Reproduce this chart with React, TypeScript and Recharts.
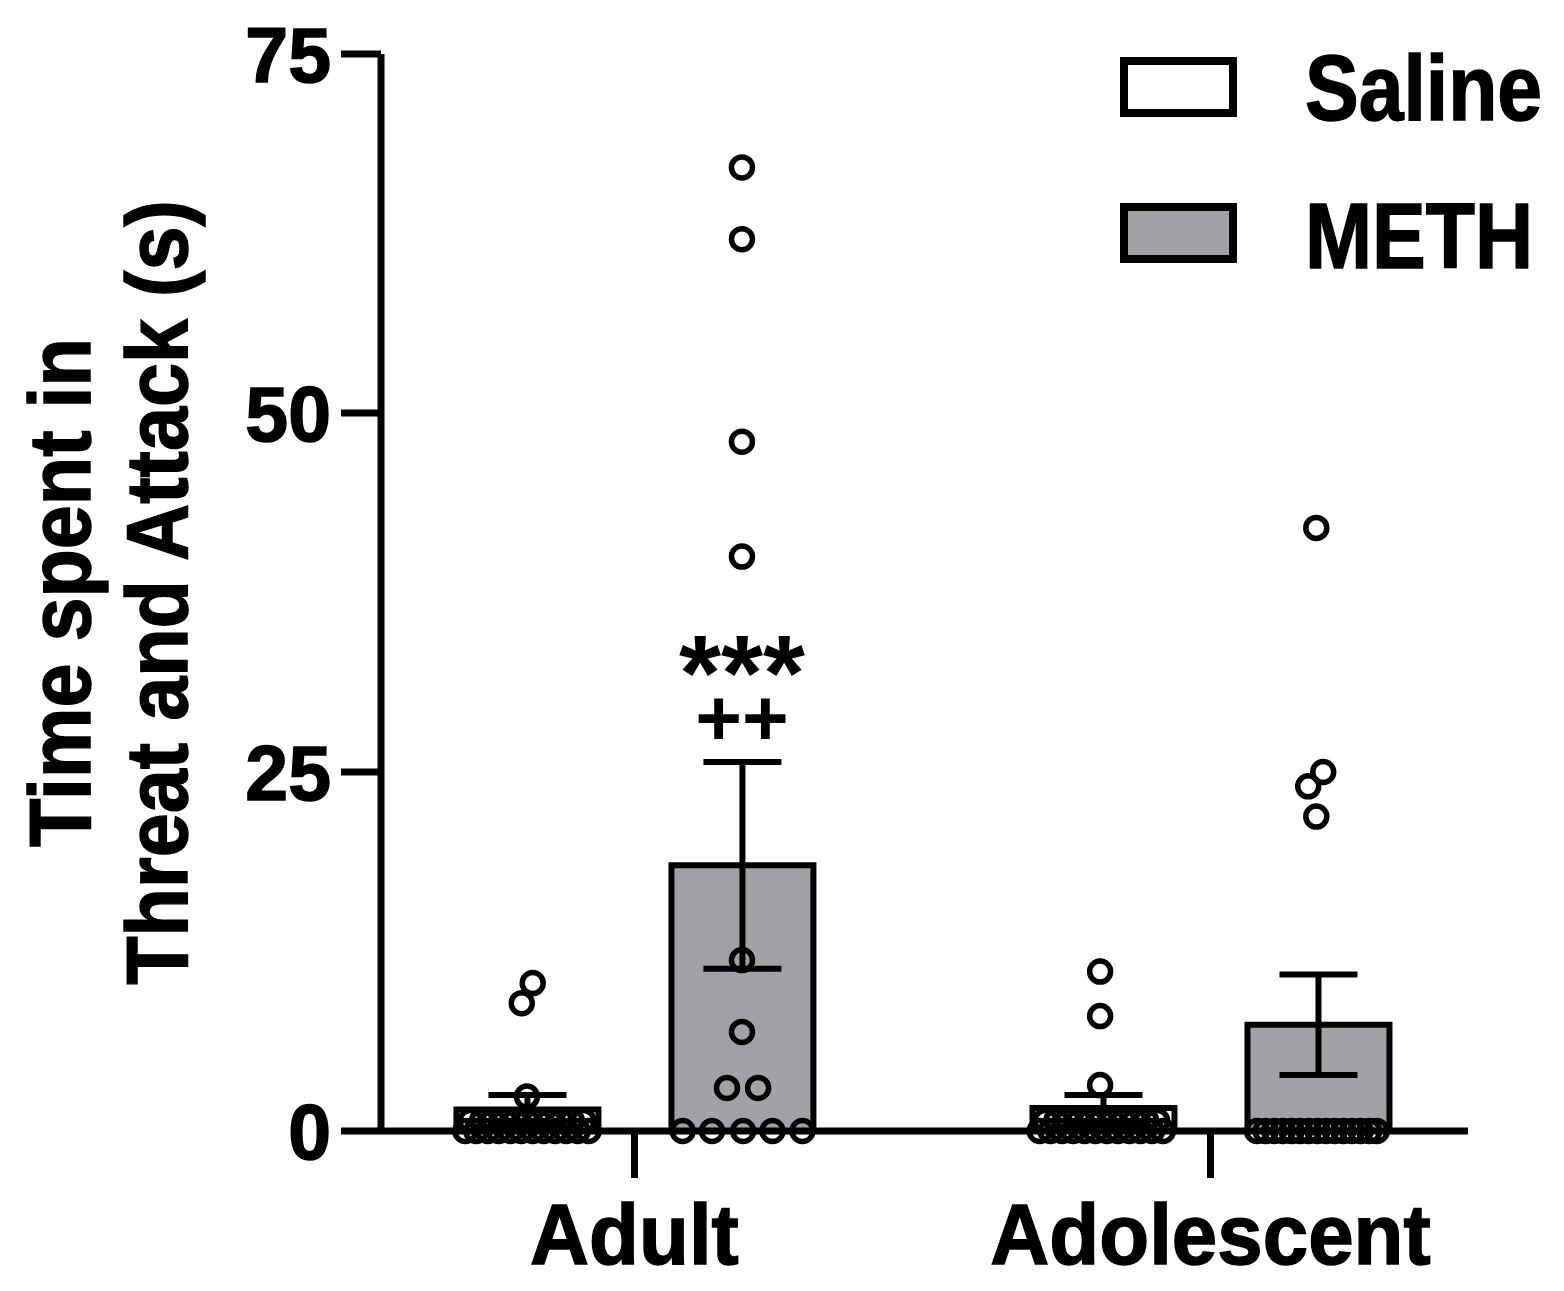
import { Bar, ComposedChart, ErrorBar, Legend, Scatter, XAxis, YAxis } from "recharts";

const FONT = '"Liberation Sans", Arial, sans-serif';

const groups = ["Adult", "Adolescent"];
const groupX = [1, 2];
const seriesNames = ["Saline", "METH"];

const salineMean = [1.5, 1.6];
const salineSem = [1.0, 0.9];
const methMean = [18.5, 7.4];
const methSem = [7.2, 3.5];

const yTicks = [0, 25, 50, 75];

// individual animals (value) and their horizontal jitter, in category units
const adultSalineVals = [
  10.3, 8.9, 2.4,
  0, 0, 0, 0, 0, 0, 0, 0, 0, 0, 0, 0,
  0.7, 0.7, 0.7, 0.7, 0.7, 0.7, 0.7, 0.7, 0.7, 0.7, 0.7,
];
const adultSalineJit = [
  0.01, -0.009, 0,
  -0.107, -0.088, -0.068, -0.049, -0.029, -0.01, 0.01, 0.029, 0.049, 0.068, 0.088, 0.107,
  -0.098, -0.078, -0.059, -0.039, -0.02, 0, 0.02, 0.039, 0.059, 0.078, 0.098,
];
const adultMethVals = [67.1, 62.1, 48.0, 40.0, 11.9, 6.9, 3.0, 3.0, 0, 0, 0, 0, 0];
const adultMethJit = [0, 0, 0, 0, 0, 0, -0.026, 0.028, -0.103, -0.052, 0.002, 0.053, 0.105];
const adolSalineVals = [
  11.1, 8.0, 3.2,
  0, 0, 0, 0, 0, 0, 0, 0, 0, 0, 0, 0,
  0.7, 0.7, 0.7, 0.7, 0.7, 0.7, 0.7, 0.7, 0.7, 0.7, 0.7,
];
const adolSalineJit = [
  -0.005, -0.005, -0.005,
  -0.11, -0.091, -0.071, -0.052, -0.032, -0.013, 0.007, 0.026, 0.046, 0.065, 0.085, 0.104,
  -0.1, -0.081, -0.061, -0.042, -0.022, -0.003, 0.016, 0.036, 0.055, 0.075, 0.094,
];
const adolMethVals = [42.0, 25.0, 24.0, 21.9, 0, 0, 0, 0, 0, 0, 0, 0, 0, 0, 0, 0, 0, 0, 0];
const adolMethJit = [
  -0.003, 0.009, -0.017, -0.003,
  -0.106, -0.091, -0.076, -0.061, -0.046, -0.031, -0.016, -0.001, 0.014, 0.029, 0.044, 0.059, 0.074, 0.089, 0.102,
];

const sigStars = ["***", ""];
const sigPlus = ["++", ""];

const X_DOMAIN = [0.56, 2.447];
const BAR_SIZE = 142;
const BAR_GAP = 73;
const BAND_PX = 576;
const SHIFT = (BAR_SIZE + BAR_GAP) / 2 / BAND_PX;
const METH_FILL = "#a2a1a6";
const legendFills: Record<string, string> = { Saline: "#ffffff", METH: METH_FILL };

const barRows = groups.map((g, i) => ({
  x: groupX[i],
  saline: salineMean[i],
  salineErr: salineSem[i],
  meth: methMean[i],
  methErr: methSem[i],
}));

const toDots = (gi: number, side: number, vals: number[], jit: number[]) =>
  vals.map((v, i) => ({ x: groupX[gi] + side * SHIFT + jit[i], v }));

const salineDots = [
  ...toDots(0, -1, adultSalineVals, adultSalineJit),
  ...toDots(1, -1, adolSalineVals, adolSalineJit),
];
const methDots = [
  ...toDots(0, 1, adultMethVals, adultMethJit),
  ...toDots(1, 1, adolMethVals, adolMethJit),
];
const sigRows = groups
  .map((g, i) => ({ x: groupX[i] + SHIFT, v: methMean[i] + methSem[i], i }))
  .filter((r) => sigStars[r.i] !== "");

const Dot = (p: any) => (
  <circle cx={p.cx} cy={p.cy} r={10.5} fill="none" stroke="#000" strokeWidth={5.5} />
);

const SigMark = (p: any) => {
  const i = p.payload.i;
  return (
    <g fontFamily={FONT} fontWeight={700} fill="#000" textAnchor="middle">
      <text x={p.cx} y={p.cy - 52} fontSize={108}>
        {sigStars[i]}
      </text>
      <text x={p.cx} y={p.cy - 17} fontSize={80}>
        {sigPlus[i]}
      </text>
    </g>
  );
};

function XTick({ x, y, payload }: any) {
  return (
    <g transform={`translate(${x},${y}) scale(0.95,1)`}>
      <text
        x={0}
        y={0}
        dy="0.72em"
        textAnchor="middle"
        fontSize={86}
        fontWeight={700}
        fontFamily={FONT}
        fill="#000"
        stroke="#000"
        strokeWidth={1.5}
      >
        {groups[groupX.indexOf(payload.value)]}
      </text>
    </g>
  );
}

function YTick({ x, y, payload }: any) {
  return (
    <text
      x={x}
      y={y}
      dy="0.36em"
      textAnchor="end"
      fontSize={77}
      fontWeight={700}
      fontFamily={FONT}
      fill="#000"
      stroke="#000"
      strokeWidth={1.5}
    >
      {payload.value}
    </text>
  );
}

function YLabel({ viewBox }: any) {
  const cy = viewBox.y + viewBox.height / 2;
  const lines = ["Time spent in", "Threat and Attack (s)"];
  const xs = [viewBox.x + 90, viewBox.x + 187];
  return (
    <g>
      {lines.map((t, i) => (
        <g key={t} transform={`translate(${xs[i]},${cy}) rotate(-90) scale(0.9,1)`}>
          <text
            x={0}
            y={0}
            textAnchor="middle"
            fontSize={88}
            fontWeight={700}
            fontFamily={FONT}
            fill="#000"
            stroke="#000"
            strokeWidth={1.5}
          >
            {t}
          </text>
        </g>
      ))}
    </g>
  );
}

function LegendBox({ payload }: any) {
  const items = seriesNames.filter((n) => (payload || []).some((p: any) => p.value === n));
  return (
    <svg width={460} height={250}>
      {items.map((name, i) => (
        <g key={name}>
          <rect x={24} y={21 + i * 146} width={109} height={52} fill={legendFills[name]} stroke="#000" strokeWidth={8} />
          <g transform={`translate(205,${80 + i * 148}) scale(0.875,1)`}>
            <text
              x={0}
              y={0}
              fontSize={92}
              fontWeight={700}
              fontFamily={FONT}
              fill="#000"
              stroke="#000"
              strokeWidth={1.5}
            >
              {name}
            </text>
          </g>
        </g>
      ))}
    </svg>
  );
}

export default function App() {
  return (
    <div style={{ position: "absolute", left: 0, top: 0, width: 1564, height: 1291, background: "#fff" }}>
      <ComposedChart
        width={1564}
        height={1291}
        data={barRows}
        margin={{ top: 54, right: 96, bottom: 20, left: 0 }}
        barGap={BAR_GAP}
      >
        <XAxis
          dataKey="x"
          type="number"
          domain={X_DOMAIN}
          ticks={groupX}
          interval={0}
          height={140}
          tickSize={47}
          tickMargin={24}
          axisLine={{ stroke: "#000", strokeWidth: 7 }}
          tickLine={{ stroke: "#000", strokeWidth: 7 }}
          tick={<XTick />}
        />
        <XAxis xAxisId="dots" dataKey="x" type="number" domain={X_DOMAIN} hide />
        <YAxis
          type="number"
          domain={[0, 75]}
          ticks={yTicks}
          interval={0}
          width={381}
          tickSize={40}
          tickMargin={10}
          axisLine={{ stroke: "#000", strokeWidth: 7 }}
          tickLine={{ stroke: "#000", strokeWidth: 7 }}
          tick={<YTick />}
          label={<YLabel />}
        />
        <Legend
          layout="horizontal"
          verticalAlign="middle"
          align="center"
          wrapperStyle={{ left: 1100, top: 40, width: 460, height: 250 }}
          content={<LegendBox />}
        />
        <Bar
          dataKey="saline"
          name={seriesNames[0]}
          barSize={BAR_SIZE}
          fill="#ffffff"
          stroke="#000"
          strokeWidth={6}
          isAnimationActive={false}
        >
          <ErrorBar dataKey="salineErr" width={39} stroke="#000" strokeWidth={6} direction="y" />
        </Bar>
        <Bar
          dataKey="meth"
          name={seriesNames[1]}
          barSize={BAR_SIZE}
          fill={METH_FILL}
          stroke="#000"
          strokeWidth={6}
          isAnimationActive={false}
        >
          <ErrorBar dataKey="methErr" width={39} stroke="#000" strokeWidth={6} direction="y" />
        </Bar>
        <Scatter xAxisId="dots" data={salineDots} dataKey="v" shape={Dot} legendType="none" isAnimationActive={false} />
        <Scatter xAxisId="dots" data={methDots} dataKey="v" shape={Dot} legendType="none" isAnimationActive={false} />
        <Scatter xAxisId="dots" data={sigRows} dataKey="v" shape={SigMark} legendType="none" isAnimationActive={false} />
      </ComposedChart>
    </div>
  );
}
